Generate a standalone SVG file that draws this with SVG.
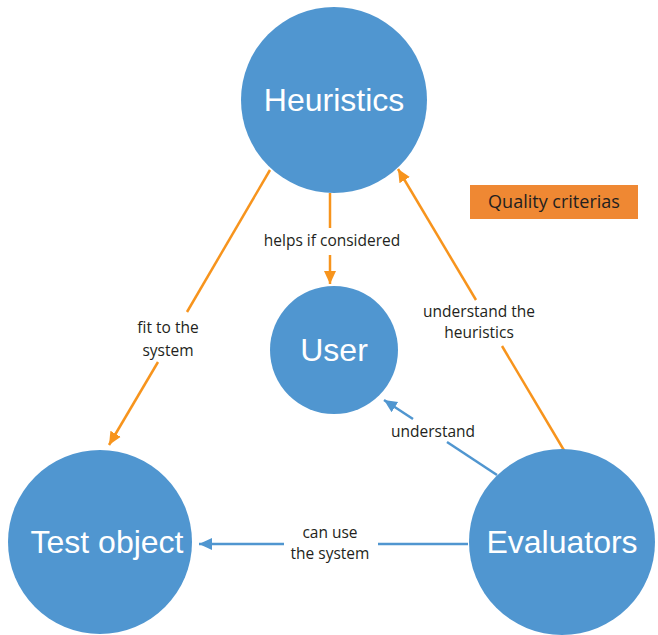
<svg xmlns="http://www.w3.org/2000/svg" width="658" height="635" viewBox="0 0 658 635">
<style>
.node{fill:#5096D0}
.ntxt{fill:#fff;font-family:"Liberation Sans",Arial,sans-serif;font-size:32px;text-anchor:middle}
.lbl{fill:#231F20;font-family:"Open Sans","Noto Sans",sans-serif;font-size:15.5px;text-anchor:middle}
.or{stroke:#F7941D;stroke-width:2.5;fill:none}
.bl{stroke:#5096D0;stroke-width:2.5;fill:none}
</style>
<defs>
<marker id="ao" markerUnits="userSpaceOnUse" markerWidth="14" markerHeight="14" viewBox="0 0 14 14" refX="13" refY="7" orient="auto"><path d="M0,1 L13,7 L0,13 Z" fill="#F7941D"/></marker>
<marker id="ab" markerUnits="userSpaceOnUse" markerWidth="14" markerHeight="14" viewBox="0 0 14 14" refX="13" refY="7" orient="auto"><path d="M0,1 L13,7 L0,13 Z" fill="#5096D0"/></marker>
</defs>
<g id="connectors">
<line class="or" x1="330" y1="193" x2="330" y2="228"/>
<line class="or" x1="330" y1="255" x2="330" y2="284" marker-end="url(#ao)"/>
<text class="lbl" x="332" y="246">helps if considered</text>
<line class="or" x1="270" y1="170" x2="187" y2="312"/>
<line class="or" x1="158" y1="362" x2="109" y2="445" marker-end="url(#ao)"/>
<text class="lbl" x="168" y="333">fit to the</text>
<text class="lbl" x="168" y="356">system</text>
<line class="or" x1="565" y1="452" x2="502" y2="346"/>
<line class="or" x1="476" y1="300" x2="398" y2="169" marker-end="url(#ao)"/>
<text class="lbl" x="479" y="317">understand the</text>
<text class="lbl" x="479" y="338">heuristics</text>
<line class="bl" x1="497" y1="475" x2="447" y2="442"/>
<line class="bl" x1="413" y1="419" x2="384" y2="400" marker-end="url(#ab)"/>
<text class="lbl" x="433" y="437">understand</text>
<line class="bl" x1="468" y1="544" x2="378" y2="544"/>
<line class="bl" x1="284" y1="544" x2="199" y2="544" marker-end="url(#ab)"/>
<text class="lbl" x="330" y="538">can use</text>
<text class="lbl" x="330" y="559">the system</text>
</g>
<g id="heuristics"><circle class="node" cx="334" cy="100" r="93"/><text class="ntxt" x="334" y="111">Heuristics</text></g>
<g id="user"><circle class="node" cx="334" cy="350" r="64"/><text class="ntxt" x="334" y="361">User</text></g>
<g id="test-object"><circle class="node" cx="100" cy="542" r="92"/><text class="ntxt" x="107" y="553">Test object</text></g>
<g id="evaluators"><circle class="node" cx="562" cy="542" r="93"/><text class="ntxt" x="562" y="553">Evaluators</text></g>
<g id="quality-criterias"><rect x="470" y="185" width="168" height="34" fill="#EF8833"/><text x="554" y="208" fill="#231F20" font-family="'Open Sans','Noto Sans',sans-serif" font-size="18" text-anchor="middle">Quality criterias</text></g>
</svg>
